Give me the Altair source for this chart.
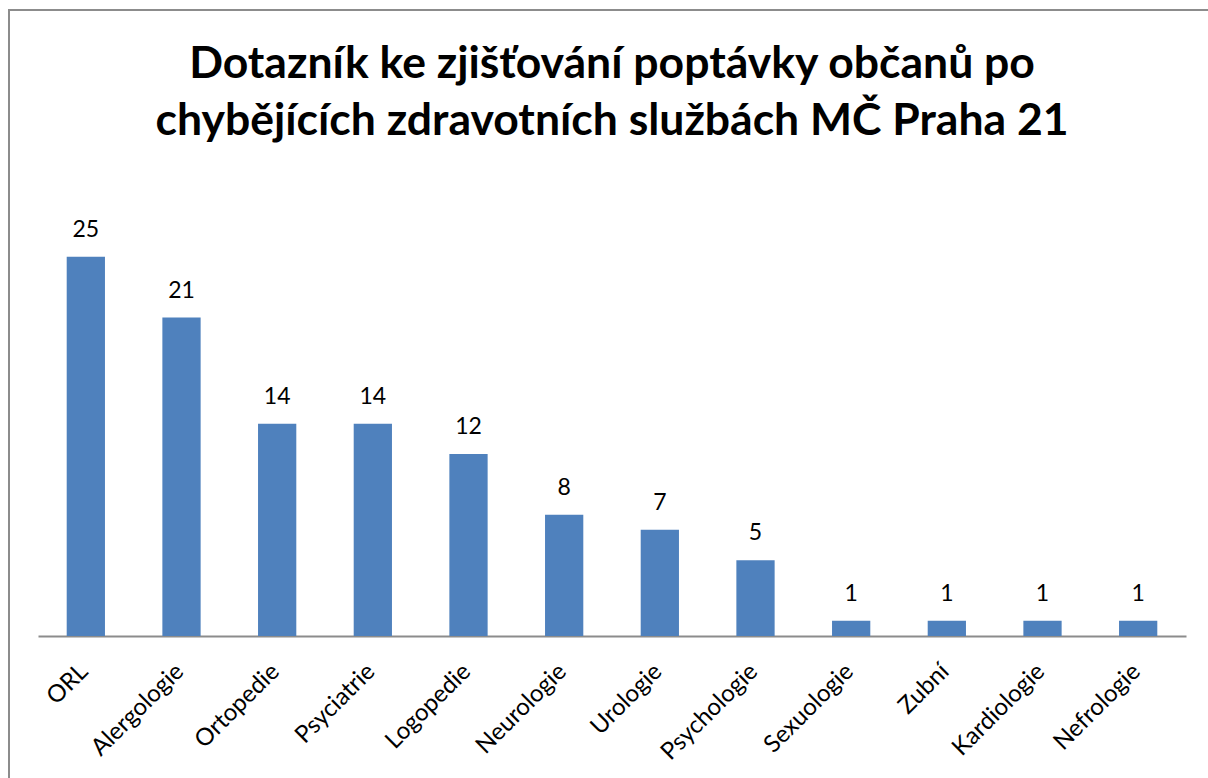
import altair as alt
import pandas as pd

categories = ["ORL", "Alergologie", "Ortopedie", "Psyciatrie", "Logopedie", "Neurologie",
              "Urologie", "Psychologie", "Sexuologie", "Zubní", "Kardiologie", "Nefrologie"]
values = [25, 21, 14, 14, 12, 8, 7, 5, 1, 1, 1, 1]
title_lines = ["Dotazník ke zjišťování poptávky občanů po",
               "chybějících zdravotních službách MČ Praha 21"]

df = pd.DataFrame({"cat": categories, "val": values})

FONT = "Lato"
W, H = 1148, 455

x = alt.X("cat:N", sort=categories, title=None,
          scale=alt.Scale(paddingInner=0.6, paddingOuter=0.3),
          axis=alt.Axis(labelAngle=-45, labelFontSize=24, labelFont=FONT, labelColor="black",
                        ticks=False, domainColor="#8c8c8c", domainWidth=2, labelPadding=23,
                        labelOffset=-10))
y = alt.Y("val:Q", title=None, scale=alt.Scale(domain=[0, 30]), axis=None)

bars = alt.Chart(df).mark_bar(color="#4F81BD").encode(x=x, y=y)
labels = alt.Chart(df).mark_text(dy=-20, baseline="alphabetic", fontSize=23, font=FONT,
                                 color="black").encode(x=x, y=y, text="val:Q")
frame = alt.Chart(df.head(1)).mark_rect(fill=None, stroke="#8c8c8c", strokeWidth=2).encode(
    x=alt.value(-29), x2=alt.value(1300), y=alt.value(-171), y2=alt.value(700))

chart = alt.layer(frame, bars, labels).properties(
    width=W, height=H,
    title=alt.TitleParams(title_lines, font=FONT, fontSize=44.5, fontWeight="bold",
                          color="black", anchor="middle", offset=0, lineHeight=57,
                          frame="group", dy=135),
    autosize=alt.AutoSizeParams(type="none"),
    padding={"left": 38, "top": 181, "right": 22, "bottom": 142},
).configure_view(stroke=None).configure_axis(grid=False)

chart.save("out.html", embed_options={"renderer": "svg", "actions": False})
